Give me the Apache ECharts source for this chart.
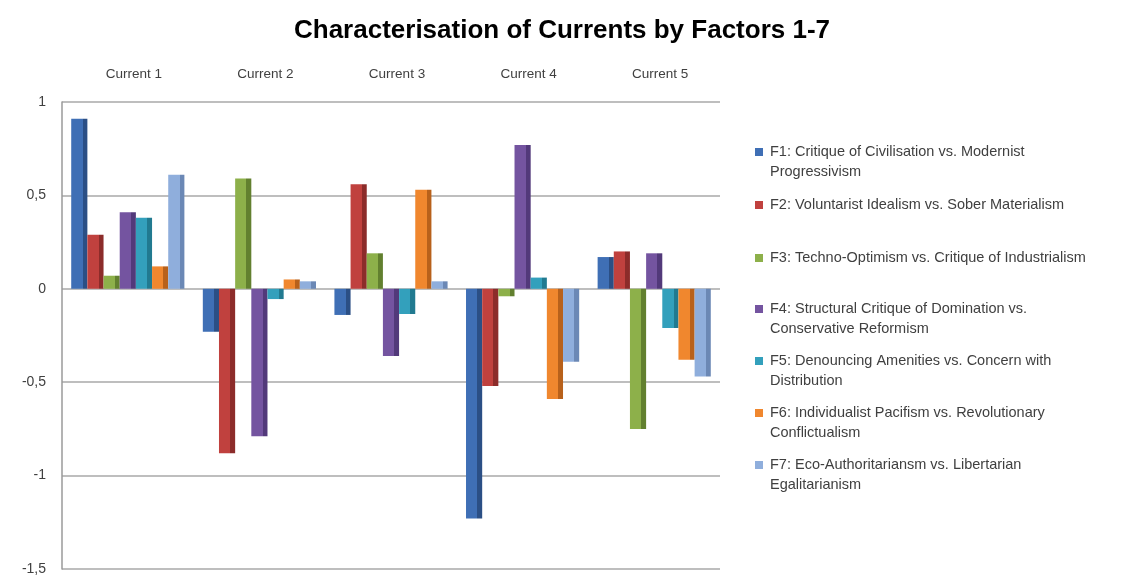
<!DOCTYPE html>
<html><head><meta charset="utf-8">
<script src="https://cdn.jsdelivr.net/npm/echarts@6/dist/echarts.min.js"></script>
<style>html,body{margin:0;padding:0;background:#fff}#c{width:1124px;height:583px}</style>
</head><body><div id="c"></div>
<script>
const categories = ['Current 1','Current 2','Current 3','Current 4','Current 5'];
const seriesNames = [
  'F1: Critique of Civilisation vs. Modernist Progressivism',
  'F2: Voluntarist Idealism vs. Sober Materialism',
  'F3: Techno-Optimism vs. Critique of Industrialism',
  'F4: Structural Critique of Domination vs. Conservative Reformism',
  'F5: Denouncing Amenities vs. Concern with Distribution',
  'F6: Individualist Pacifism vs. Revolutionary Conflictualism',
  'F7: Eco-Authoritariansm vs. Libertarian Egalitarianism'
];
const legendLabels = [
  'F1: Critique of Civilisation vs. Modernist\nProgressivism',
  'F2: Voluntarist Idealism vs. Sober Materialism',
  'F3: Techno-Optimism vs. Critique of Industrialism',
  'F4: Structural Critique of Domination vs.\nConservative Reformism',
  'F5: Denouncing Amenities vs. Concern with\nDistribution',
  'F6: Individualist Pacifism vs. Revolutionary\nConflictualism',
  'F7: Eco-Authoritariansm vs. Libertarian\nEgalitarianism'
];
const F1 = [0.91, -0.23, -0.14, -1.23, 0.17];
const F2 = [0.29, -0.88, 0.56, -0.52, 0.20];
const F3 = [0.07, 0.59, 0.19, -0.04, -0.75];
const F4 = [0.41, -0.79, -0.36, 0.77, 0.19];
const F5 = [0.38, -0.055, -0.135, 0.06, -0.21];
const F6 = [0.12, 0.05, 0.53, -0.59, -0.38];
const F7 = [0.61, 0.04, 0.04, -0.39, -0.47];
const seriesValues = [F1, F2, F3, F4, F5, F6, F7];
const colors = ['#3F6FB5','#C0413E','#8DB04A','#7454A0','#33A0BC','#F0872E','#8FAEDC'];
const darkColors = ['#2B4F85','#8C2C2A','#62802F','#52397A','#217A90','#B8611B','#6B88B5'];
const yTicks = {min: -1.5, max: 1, interval: 0.5};

const chart = echarts.init(document.getElementById('c'));
const series = seriesNames.map((n, i) => ({
  name: n, type: 'bar', data: seriesValues[i],
  barGap: '0%', barCategoryGap: '14%',
  itemStyle: {
    color: {type: 'linear', x: 0, y: 0, x2: 1, y2: 0, colorStops: [
      {offset: 0, color: colors[i]}, {offset: 0.7, color: colors[i]},
      {offset: 0.7, color: darkColors[i]}, {offset: 1, color: darkColors[i]}]}
  }
}));
const legendTops = [142, 195, 248, 299, 351, 403, 455];
const legends = seriesNames.map((n, i) => {
  const twoLine = legendLabels[i].indexOf('\n') >= 0;
  return {
    left: 755, top: legendTops[i], orient: 'vertical',
    data: [{name: n, icon: twoLine ? 'path://M0,0L8,0L8,8L0,8Z M0,28L0.01,28' : 'rect',
            itemStyle: {color: colors[i]}}],
    itemWidth: 8, itemHeight: twoLine ? 28 : 8, itemGap: 0, padding: 0,
    selectedMode: false,
    formatter: () => legendLabels[i],
    textStyle: {fontFamily: 'Liberation Sans', fontSize: 14.5, color: '#404040', lineHeight: 20, padding: [0,0,0,2]}
  };
});
chart.setOption({
  animation: false,
  title: {text: 'Characterisation of Currents by Factors 1-7', left: 'center', top: 13,
    textStyle: {fontFamily: 'Liberation Sans', fontWeight: 'bold', fontSize: 26, color: '#000'}},
  legend: legends,
  grid: {left: 62, right: 404, top: 102, bottom: 14},
  xAxis: {type: 'category', data: categories, position: 'top',
    axisLine: {show: false}, axisTick: {show: false},
    axisLabel: {fontFamily: 'Liberation Sans', fontSize: 13.5, color: '#404040', margin: 21,
      padding: [0, 0, 0, 12]}},
  yAxis: {type: 'value', min: yTicks.min, max: yTicks.max, interval: yTicks.interval,
    axisLine: {show: true, onZero: false, lineStyle: {color: '#9a9a9a', width: 1.5}},
    axisTick: {show: false},
    splitLine: {lineStyle: {color: '#a8a8a8', width: 1.5}},
    axisLabel: {fontFamily: 'Liberation Sans', fontSize: 14, color: '#404040', margin: 16,
      formatter: v => String(v).replace('.', ',')}},
  series: series
});
</script></body></html>
